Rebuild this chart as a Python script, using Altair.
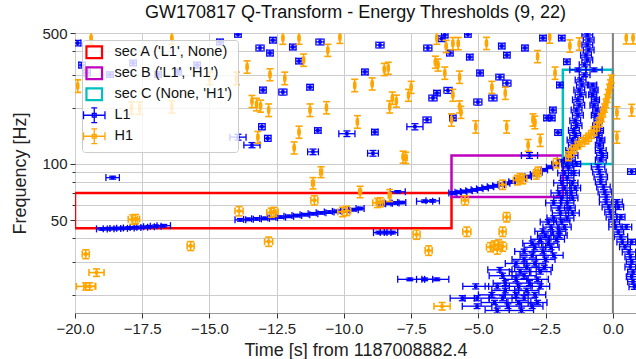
import altair as alt
import pandas as pd

# ---------------------------------------------------------------------------
# Q-transform tiles above the energy threshold, one tuple per tile:
# (time centre [s], half width [s], frequency centre [Hz], half height [Hz])
# ---------------------------------------------------------------------------

# L1: low-frequency inspiral track (section A)
l1_track_a = [
    (-19.00, 0.20, 45.0, 0.7), (-18.75, 0.20, 45.1, 0.7), (-18.50, 0.20, 45.2, 0.7),
    (-18.25, 0.20, 45.3, 0.7), (-18.00, 0.20, 45.5, 0.7), (-17.75, 0.20, 45.7, 0.7),
    (-17.50, 0.20, 45.9, 0.7), (-17.25, 0.20, 46.2, 0.7), (-17.00, 0.20, 46.5, 0.7),
    (-16.70, 0.25, 46.8, 0.7),
    (-13.85, 0.20, 50.3, 0.8), (-13.55, 0.18, 50.6, 0.8), (-13.25, 0.18, 50.9, 0.8),
    (-12.95, 0.18, 51.2, 0.8), (-12.65, 0.18, 51.6, 0.8), (-12.35, 0.18, 52.0, 0.8),
    (-12.05, 0.18, 52.5, 0.8), (-11.75, 0.18, 53.0, 0.8), (-11.45, 0.18, 53.6, 0.8),
    (-11.15, 0.18, 54.2, 0.8), (-10.85, 0.18, 54.8, 0.8), (-10.55, 0.18, 55.3, 0.9),
    (-10.25, 0.18, 55.8, 0.9), (-9.95, 0.18, 56.3, 0.9), (-9.65, 0.18, 57.0, 0.9),
    (-9.40, 0.15, 57.8, 0.9),
    (-8.60, 0.15, 61.3, 0.9), (-8.35, 0.15, 61.6, 0.9), (-8.10, 0.15, 61.9, 0.9),
    (-7.85, 0.15, 62.2, 0.9), (-7.00, 0.30, 63.2, 1.0), (-6.70, 0.25, 63.5, 1.0),
    (-8.00, 0.28, 71.0, 1.0),
    (-8.70, 0.20, 43.0, 0.7), (-8.45, 0.20, 43.0, 0.7), (-8.20, 0.20, 43.0, 0.7),
    (-7.55, 0.45, 24.2, 0.4), (-7.00, 0.30, 24.2, 0.4), (-6.55, 0.45, 24.2, 0.4),
    (-18.60, 0.25, 84.5, 1.5),
]

# L1: track through section B
l1_track_b = [
    (-5.95, 0.15, 70.0, 1.1), (-5.75, 0.12, 70.6, 1.1), (-5.55, 0.12, 71.2, 1.1),
    (-5.35, 0.12, 71.9, 1.1), (-5.15, 0.12, 72.7, 1.1), (-4.95, 0.12, 73.6, 1.1),
    (-4.75, 0.12, 74.5, 1.2), (-4.55, 0.12, 75.5, 1.2), (-4.35, 0.12, 76.5, 1.2),
    (-4.15, 0.12, 77.6, 1.2), (-3.95, 0.12, 78.8, 1.2), (-3.75, 0.12, 80.2, 1.3),
    (-3.55, 0.12, 81.8, 1.3), (-3.35, 0.12, 83.5, 1.3), (-3.15, 0.12, 85.5, 1.4),
    (-2.95, 0.12, 87.8, 1.4), (-2.75, 0.12, 90.3, 1.5), (-2.55, 0.12, 93.0, 1.5),
    (-2.35, 0.12, 96.0, 1.6), (-2.15, 0.12, 99.5, 1.6), (-1.95, 0.12, 104.0, 1.7),
]

# L1: isolated high-frequency tiles
l1_scatter = [
    (-19.90, 0.12, 442, 15), (-19.74, 0.12, 337, 12), (-19.55, 0.12, 306, 11),
    (-18.70, 0.12, 300, 10), (-17.84, 0.12, 346, 12), (-16.91, 0.12, 300, 10),
    (-16.17, 0.12, 310, 11), (-15.46, 0.12, 337, 12), (-14.61, 0.12, 448, 16),
    (-13.94, 0.12, 492, 17), (-13.94, 0.30, 139, 5), (-13.42, 0.30, 126, 4),
    (-13.01, 0.12, 248, 9), (-13.05, 0.12, 158, 6), (-12.83, 0.12, 137, 5),
    (-13.12, 0.15, 416, 15), (-12.75, 0.12, 391, 14), (-12.64, 0.12, 458, 16),
    (-12.27, 0.15, 242, 9), (-11.90, 0.12, 421, 15), (-11.67, 0.12, 354, 12),
    (-11.26, 0.12, 257, 9), (-11.15, 0.20, 116, 4), (-10.89, 0.15, 448, 16),
    (-10.97, 0.12, 151, 5), (-9.89, 0.30, 145, 5), (-9.22, 0.12, 310, 11),
    (-8.85, 0.12, 148, 5), (-8.92, 0.20, 114, 4), (-8.66, 0.15, 431, 15),
    (-6.25, 0.12, 488, 17), (-6.36, 0.12, 466, 16), (-6.88, 0.15, 416, 15),
    (-6.06, 0.12, 391, 14), (-5.32, 0.12, 372, 13), (-5.39, 0.12, 492, 17),
    (-4.13, 0.12, 426, 15), (-3.94, 0.12, 381, 13), (-3.27, 0.12, 416, 15),
    (-2.60, 0.12, 470, 16), (-4.94, 0.12, 306, 11), (-4.20, 0.15, 291, 10),
    (-3.94, 0.15, 270, 10), (-6.54, 0.12, 239, 8), (-6.13, 0.15, 247, 9),
    (-6.69, 0.15, 225, 8), (-5.02, 0.15, 214, 8), (-4.46, 0.15, 225, 8),
    (-6.91, 0.15, 172, 6), (-5.95, 0.12, 176, 6), (-7.36, 0.30, 158, 6),
    (-3.10, 0.30, 111, 4), (-2.45, 0.12, 176, 6), (-1.90, 0.12, 470, 16),
    (-1.71, 0.12, 351, 12), (-1.97, 0.12, 264, 9), (-2.23, 0.12, 194, 7),
    (-2.27, 0.12, 176, 6), (-2.04, 0.12, 147, 5), (0.70, 0.15, 91, 3),
]

# L1: chirp tiles, rising branch below section C
l1_chirp_rise = [
    (-4.30, 0.45, 16.5, 0.5), (-3.40, 0.45, 16.5, 0.5),
    (-5.05, 0.55, 17.4, 0.5), (-3.90, 0.45, 17.4, 0.5), (-3.00, 0.40, 17.4, 0.5),
    (-4.40, 0.50, 18.2, 0.5), (-3.50, 0.45, 18.2, 0.5), (-2.80, 0.35, 18.2, 0.5),
    (-5.60, 0.45, 19.2, 0.6), (-5.05, 0.45, 19.2, 0.6), (-4.10, 0.50, 19.2, 0.6),
    (-3.30, 0.45, 19.2, 0.6),
    (-4.50, 0.50, 20.0, 0.6), (-3.60, 0.45, 20.0, 0.6), (-2.90, 0.40, 20.0, 0.6),
    (-4.00, 0.50, 21.1, 0.6), (-3.20, 0.45, 21.1, 0.6),
    (-5.10, 0.48, 22.2, 0.7), (-4.30, 0.45, 22.2, 0.7), (-3.50, 0.50, 22.2, 0.7),
    (-2.70, 0.35, 22.2, 0.7),
    (-4.00, 0.45, 23.1, 0.7), (-3.10, 0.45, 23.1, 0.7),
    (-3.60, 0.45, 24.2, 0.7), (-2.80, 0.40, 24.2, 0.7),
    (-4.10, 0.50, 25.3, 0.8), (-3.30, 0.45, 25.3, 0.8),
    (-4.20, 0.45, 27.2, 0.8), (-3.45, 0.40, 26.6, 0.8), (-2.70, 0.40, 26.6, 0.8),
    (-3.20, 0.45, 28.0, 0.8), (-2.55, 0.30, 28.0, 0.8),
    (-3.60, 0.40, 29.4, 0.9), (-2.90, 0.40, 29.4, 0.9),
    (-3.30, 0.45, 30.9, 0.9), (-2.50, 0.35, 30.9, 0.9),
    (-3.00, 0.45, 32.5, 1.0), (-2.20, 0.35, 32.5, 1.0),
    (-3.30, 0.35, 34.1, 1.0), (-2.60, 0.35, 34.1, 1.0),
    (-2.90, 0.40, 35.9, 1.1), (-2.30, 0.30, 35.9, 1.1),
    (-3.00, 0.35, 37.7, 1.1), (-2.40, 0.35, 37.7, 1.1),
    (-2.70, 0.35, 39.6, 1.2), (-2.10, 0.30, 39.6, 1.2),
    (-2.50, 0.30, 41.6, 1.2), (-2.00, 0.30, 41.6, 1.2),
    (-2.60, 0.30, 43.7, 1.3), (-2.00, 0.25, 43.7, 1.3),
    (-2.30, 0.30, 46.0, 1.4), (-1.80, 0.25, 46.0, 1.4),
    (-2.40, 0.30, 49.0, 1.5), (-1.90, 0.30, 49.0, 1.5),
    (-2.20, 0.25, 51.4, 1.5), (-1.70, 0.25, 51.4, 1.5),
    (-1.95, 0.30, 54.7, 1.6), (-1.50, 0.25, 54.7, 1.6),
    (-2.00, 0.30, 58.2, 1.7), (-1.60, 0.20, 58.2, 1.7),
    (-2.20, 0.30, 61.9, 1.9), (-1.70, 0.25, 61.9, 1.9),
    (-1.90, 0.30, 65.8, 2.0), (-1.50, 0.20, 65.8, 2.0),
    (-2.00, 0.30, 70.0, 2.1), (-1.55, 0.20, 70.0, 2.1),
    (-1.80, 0.25, 74.4, 2.2), (-1.40, 0.20, 74.4, 2.2),
    (-1.90, 0.30, 79.2, 2.4), (-1.50, 0.20, 79.2, 2.4),
    (-1.70, 0.25, 84.2, 2.5),
    (-1.80, 0.25, 89.5, 2.7), (-1.45, 0.20, 89.5, 2.7),
    (-1.65, 0.20, 95.2, 2.9),
    (-1.70, 0.20, 100.0, 3.0), (-1.35, 0.15, 100.0, 3.0),
]

# L1: the two legs inside and above section C
l1_chirp_peak = [
    (-1.60, 0.20, 104.8, 2.5), (-1.50, 0.20, 111, 2.6), (-1.55, 0.20, 118, 2.8),
    (-1.45, 0.20, 126, 3.0), (-1.50, 0.20, 134, 3.2), (-1.40, 0.20, 142, 3.4),
    (-1.45, 0.20, 151, 3.6), (-1.35, 0.20, 160, 3.8), (-1.40, 0.20, 170, 4.0),
    (-1.30, 0.20, 182, 4.3), (-1.35, 0.20, 194, 4.6), (-1.25, 0.20, 206, 4.9),
    (-1.30, 0.20, 220, 5.2), (-1.20, 0.20, 234, 5.5), (-1.25, 0.20, 248, 5.9),
    (-1.15, 0.20, 264, 6.2), (-1.20, 0.20, 281, 6.6), (-1.05, 0.20, 299, 7.0),
    (-1.30, 0.30, 318, 7.5), (-0.70, 0.30, 318, 7.5), (-1.05, 0.20, 338, 8.0),
    (-0.95, 0.20, 359, 8.5), (-1.00, 0.20, 381, 9.0), (-0.90, 0.20, 406, 9.6),
    (-0.95, 0.20, 432, 10.2), (-0.90, 0.20, 459, 10.8), (-0.95, 0.20, 488, 11.5),
    (-0.75, 0.15, 264, 6.2), (-0.70, 0.15, 248, 5.9), (-0.75, 0.15, 234, 5.5),
    (-0.65, 0.15, 220, 5.2), (-0.70, 0.15, 206, 4.9), (-0.60, 0.15, 194, 4.6),
    (-0.65, 0.15, 182, 4.3), (-0.55, 0.15, 170, 4.0), (-0.60, 0.15, 160, 3.8),
    (-0.50, 0.15, 151, 3.6), (-0.55, 0.15, 142, 3.4), (-0.45, 0.15, 134, 3.2),
    (-0.50, 0.15, 126, 3.0), (-0.45, 0.20, 118, 2.8), (-0.40, 0.20, 111, 2.6),
    (-0.45, 0.20, 105, 2.5),
]

# L1: falling branch after the peak
l1_chirp_fall = [
    (-0.55, 0.25, 96.4, 2.9), (-0.50, 0.25, 90.6, 2.7), (-0.45, 0.25, 85.2, 2.6),
    (-0.45, 0.20, 80.1, 2.4), (-0.35, 0.25, 75.3, 2.3), (-0.30, 0.25, 70.8, 2.1),
    (-0.25, 0.25, 66.6, 2.0), (-0.25, 0.25, 62.6, 1.9), (0.15, 0.20, 62.6, 1.9),
    (-0.15, 0.25, 58.9, 1.8), (0.20, 0.20, 58.9, 1.8), (-0.10, 0.20, 55.4, 1.7),
    (-0.05, 0.20, 52.1, 1.6), (0.30, 0.15, 52.1, 1.6), (0.05, 0.20, 49.0, 1.5),
    (0.10, 0.25, 46.1, 1.4), (0.50, 0.20, 46.1, 1.4), (0.20, 0.20, 43.3, 1.3),
    (0.30, 0.25, 40.8, 1.2), (0.35, 0.20, 38.3, 1.2), (0.70, 0.15, 38.3, 1.2),
    (0.45, 0.20, 36.1, 1.1), (0.60, 0.25, 33.9, 1.0), (0.65, 0.20, 31.9, 1.0),
    (0.70, 0.20, 30.0, 0.9), (0.65, 0.20, 28.2, 0.9), (0.75, 0.20, 26.5, 0.8),
    (0.70, 0.20, 25.0, 0.8), (0.75, 0.20, 23.5, 0.7), (0.80, 0.20, 22.1, 0.7),
]

# H1: low-frequency tiles and the track through section B
h1_low = [
    (-17.85, 0.17, 50.6, 2.9), (-17.75, 0.15, 50.8, 2.9), (-13.90, 0.15, 56.0, 3.2),
    (-15.70, 0.13, 36.5, 2.0), (-19.60, 0.13, 33.0, 1.8), (-19.20, 0.28, 26.3, 1.2),
    (-19.60, 0.35, 22.2, 1.0), (-19.45, 0.22, 22.2, 1.0), (-12.70, 0.17, 55.0, 3.1),
    (-12.60, 0.15, 55.5, 3.1), (-12.80, 0.15, 38.5, 2.2), (-10.05, 0.18, 55.5, 3.2),
    (-9.90, 0.15, 56.2, 3.2), (-11.10, 0.13, 64.0, 3.6), (-11.15, 0.05, 79.0, 5.5),
    (-10.85, 0.05, 90.5, 6.0), (-9.40, 0.05, 71.0, 5.0), (-8.75, 0.18, 62.0, 3.5),
    (-8.65, 0.15, 62.5, 3.5), (-8.30, 0.05, 68.0, 5.0), (-7.70, 0.05, 108.0, 7.5),
    (-7.30, 0.13, 42.0, 2.4), (-6.85, 0.13, 34.5, 2.0), (-6.35, 0.30, 17.4, 0.8),
    (-5.50, 0.13, 64.0, 3.6), (-3.95, 0.13, 52.0, 3.0), (-5.43, 0.15, 43.5, 2.5),
    (-4.10, 0.13, 43.5, 2.5), (-4.55, 0.15, 36.0, 2.0), (-4.40, 0.15, 36.8, 2.0),
    (-4.25, 0.15, 37.2, 2.1), (-4.10, 0.15, 36.2, 2.0), (-4.30, 0.15, 35.0, 2.0),
    (-4.10, 0.13, 77.5, 4.4), (-3.55, 0.15, 82.0, 4.7), (-3.45, 0.15, 84.0, 4.8),
    (-3.35, 0.15, 83.0, 4.7), (-2.85, 0.12, 88.0, 5.0), (-2.78, 0.12, 91.0, 5.2),
    (-2.10, 0.12, 101.0, 5.8),
]

# H1: chirp inside section C
h1_chirp = [
    (-1.65, 0.10, 110, 6), (-1.55, 0.10, 115, 6), (-1.45, 0.10, 120, 6),
    (-1.30, 0.10, 126, 6), (-1.15, 0.10, 131, 7), (-1.00, 0.10, 135, 7),
    (-0.90, 0.10, 139, 7), (-0.80, 0.10, 144, 7), (-0.70, 0.10, 150, 8),
    (-0.60, 0.10, 158, 8), (-0.50, 0.09, 167, 9), (-0.43, 0.08, 177, 9),
    (-0.37, 0.08, 188, 10), (-0.31, 0.07, 199, 10), (-0.26, 0.07, 211, 11),
    (-0.21, 0.06, 224, 11), (-0.17, 0.06, 238, 12), (-0.13, 0.06, 253, 13),
    (-0.09, 0.05, 268, 13), (-0.06, 0.05, 284, 14),
]

# H1: isolated high-frequency tiles
h1_scatter = [
    (-19.90, 0.03, 261, 20), (-19.40, 0.03, 470, 35), (-17.90, 0.03, 199, 15),
    (-17.60, 0.03, 199, 15), (-16.40, 0.03, 202, 15), (-16.40, 0.03, 470, 35),
    (-15.00, 0.03, 287, 22), (-14.00, 0.03, 287, 22), (-13.60, 0.03, 330, 25),
    (-13.42, 0.03, 216, 16), (-13.25, 0.03, 208, 16), (-13.10, 0.03, 204, 15),
    (-13.20, 0.03, 139, 10), (-12.80, 0.03, 194, 15), (-12.75, 0.03, 300, 22),
    (-12.27, 0.03, 470, 35), (-12.20, 0.03, 287, 22), (-11.67, 0.03, 470, 35),
    (-11.50, 0.03, 359, 27), (-11.67, 0.03, 148, 11), (-11.85, 0.03, 122, 9),
    (-11.26, 0.03, 194, 15), (-10.65, 0.03, 200, 15), (-10.60, 0.03, 405, 30),
    (-10.15, 0.03, 475, 35), (-9.60, 0.03, 263, 20), (-9.50, 0.03, 168, 13),
    (-8.95, 0.03, 268, 20), (-8.50, 0.03, 320, 24), (-8.35, 0.03, 325, 24),
    (-8.20, 0.03, 225, 17), (-8.30, 0.03, 202, 15), (-8.05, 0.03, 217, 16),
    (-7.80, 0.03, 109, 8), (-7.50, 0.03, 257, 19), (-7.60, 0.03, 233, 17),
    (-6.55, 0.03, 470, 35), (-6.20, 0.03, 425, 32), (-5.95, 0.03, 440, 33),
    (-5.75, 0.03, 440, 33), (-6.60, 0.03, 350, 26), (-6.50, 0.03, 338, 25),
    (-6.25, 0.03, 306, 23), (-5.70, 0.03, 291, 22), (-4.70, 0.03, 441, 33),
    (-2.80, 0.03, 375, 28), (-2.35, 0.03, 476, 35), (-4.00, 0.03, 239, 18),
    (-4.50, 0.03, 257, 19), (-5.95, 0.03, 233, 17), (-5.70, 0.03, 202, 15),
    (-5.65, 0.03, 189, 14), (-6.00, 0.03, 172, 13), (-5.10, 0.03, 158, 12),
    (-3.95, 0.03, 158, 12), (-2.90, 0.03, 167, 13), (-2.70, 0.03, 134, 10),
    (-3.15, 0.03, 126, 9), (-2.97, 0.03, 172, 13), (-2.15, 0.03, 306, 23),
    (-1.60, 0.03, 427, 32), (-1.25, 0.03, 438, 33), (0.15, 0.03, 188, 14),
    (0.15, 0.03, 139, 10), (0.70, 0.03, 194, 14), (0.50, 0.03, 472, 35),
    (0.75, 0.03, 472, 35),
]

# Analysis sections: (label, start, end, low freq, high freq)
section_names = ["sec A ('L1', None)", "sec B ('L1', 'H1')", "sec C (None, 'H1')"]
section_t0 = [-20.0, -6.0, -1.86]
section_t1 = [-6.0, -1.86, 0.0]
section_f0 = [45.3, 66.5, 100.0]
section_f1 = [70.0, 111.0, 318.0]

merger_time = [0.0]
x_ticks = [-20.0, -17.5, -15.0, -12.5, -10.0, -7.5, -5.0, -2.5, 0.0]
y_ticks = [20, 30, 40, 50, 60, 70, 80, 90, 100, 200, 300, 400, 500]
y_labelled = [50, 100, 500]

# ---------------------------------------------------------------------------
FONT = "Liberation Sans"
TEXT = "#222222"
L1_COLOUR = "#0000ff"
H1_COLOUR = "#ffa500"
SECTION_COLOURS = ["#ff0000", "#bf00bf", "#00bfbf"]


def tiles(groups, ifo):
    d = pd.concat([pd.DataFrame(g, columns=["t", "dt", "f", "df"]) for g in groups],
                  ignore_index=True)
    d["ifo"] = ifo
    d["t_lo"] = d.t - d.dt
    d["t_hi"] = d.t + d.dt
    d["f_lo"] = d.f - d.df
    d["f_hi"] = d.f + d.df
    return d


l1 = tiles([l1_track_a, l1_track_b, l1_scatter, l1_chirp_rise, l1_chirp_peak,
            l1_chirp_fall], "L1")
h1 = tiles([h1_low, h1_chirp, h1_scatter], "H1")

sections = pd.DataFrame({"name": section_names, "t0": section_t0, "t1": section_t1,
                         "f0": section_f0, "f1": section_f1})

xs = alt.Scale(domain=[-20, 0.86], nice=False, zero=False)
ys = alt.Scale(type="log", domain=[16, 500], nice=False)

axis_style = dict(
    labelFont=FONT, titleFont=FONT, labelFontSize=15, titleFontSize=18,
    titleFontWeight="normal", labelColor=TEXT, titleColor=TEXT,
    gridColor="#cccccc", gridWidth=1, tickColor="#333333", domain=False,
    labelFlush=False, labelOverlap=False, grid=True, labelPadding=3,
)
major_test = " || ".join(f"datum.value == {v}" for v in y_labelled)
xaxis = alt.Axis(
    values=x_ticks, title="Time [s] from 1187008882.4",
    labelExpr="replace(format(datum.value, '.1f'), '-', '\u2212')",
    tickSize=5, titlePadding=5, **axis_style,
)
yaxis = alt.Axis(
    values=y_ticks, title="Frequency [Hz]",
    labelExpr=f"({major_test}) ? format(datum.value, 'd') : ''",
    tickSize={"condition": {"test": major_test, "value": 5}, "value": 3},
    titlePadding=12, **axis_style,
)


def X(field):
    return alt.X(field, type="quantitative", scale=xs, axis=xaxis)


def Y(field):
    return alt.Y(field, type="quantitative", scale=ys, axis=yaxis)


def errorbar_layers(data, colour, lw):
    base = alt.Chart(data)
    xbar = base.mark_rule(color=colour, strokeWidth=lw, clip=True).encode(
        x=X("t_lo"), x2="t_hi", y=Y("f"))
    ybar = base.mark_rule(color=colour, strokeWidth=lw, clip=True).encode(
        x=X("t"), y=Y("f_lo"), y2="f_hi")
    xcap = base.transform_fold(["t_lo", "t_hi"], as_=["end", "tc"]).mark_tick(
        orient="vertical", size=7, thickness=lw, color=colour, opacity=1, clip=True
    ).encode(x=X("tc"), y=Y("f"))
    ycap = base.transform_fold(["f_lo", "f_hi"], as_=["end", "fc"]).mark_tick(
        orient="horizontal", size=7, thickness=lw, color=colour, opacity=1, clip=True
    ).encode(x=X("t"), y=Y("fc"))
    dot = base.mark_point(filled=True, shape="square", size=12, color=colour,
                          opacity=1, clip=True).encode(x=X("t"), y=Y("f"))
    return [xbar, ybar, xcap, ycap, dot]


boxes = alt.Chart(sections).mark_rect(filled=False, strokeWidth=2.5, clip=True).encode(
    x=X("t0"), x2="t1", y=Y("f0"), y2="f1",
    stroke=alt.Stroke("name:N", scale=alt.Scale(domain=section_names,
                                                range=SECTION_COLOURS), legend=None),
)

merger = alt.Chart(pd.DataFrame({"t": merger_time})).mark_rule(
    color="#808080", strokeWidth=2).encode(x=X("t"))

# Legend: section boxes and the two detectors' error-bar glyphs
legend_names = section_names + ["L1", "H1"]
legend_colours = SECTION_COLOURS + [L1_COLOUR, H1_COLOUR]
box_glyph = "M-0.8,-0.6H0.8V0.6H-0.8Z"
bar_glyph = ("M-1.1,0H1.1M-1.1,-0.4V0.4M1.1,-0.4V0.4M0,-0.75V0.75"
             "M-0.3,-0.75H0.3M-0.3,0.75H0.3M-0.2,-0.2H0.2V0.2H-0.2Z")
legend_shapes = [box_glyph] * 3 + [bar_glyph] * 2
legend_opts = dict(
    title=None, orient="top-left", offset=7, padding=5,
    fillColor="rgba(255,255,255,0.8)", strokeColor="#cccccc", cornerRadius=3,
    labelFont=FONT, labelFontSize=14.5, labelColor="#111111", labelLimit=400,
    labelOffset=13, symbolSize=380, symbolOpacity=1, rowPadding=0,
    symbolStrokeWidth=alt.ExprRef("datum.value === 'L1' || datum.value === 'H1' ? 1.3 : 2.2"),
)
key = alt.Chart(pd.concat([l1, h1])).transform_filter("false").mark_point(
    filled=False).encode(
    x=X("t"), y=Y("f"),
    color=alt.Color("ifo:N", scale=alt.Scale(domain=legend_names, range=legend_colours),
                    legend=alt.Legend(**legend_opts)),
    shape=alt.Shape("ifo:N", scale=alt.Scale(domain=legend_names, range=legend_shapes),
                    legend=alt.Legend(**legend_opts)),
)

chart = alt.layer(
    boxes, *errorbar_layers(l1, L1_COLOUR, 1.3), merger,
    *errorbar_layers(h1, H1_COLOUR, 1.6), key
).properties(
    width=561, height=280,
    autosize="none",
    background="white",
    padding={"left": 75, "top": 33, "right": 0, "bottom": 46},
    title=alt.Title("GW170817 Q-Transform - Energy Thresholds (9, 22)", font=FONT,
                    fontSize=18, fontWeight="normal", color="#111111", offset=4,
                    anchor="middle"),
).configure_view(
    stroke="#999999", strokeWidth=1,
)

chart.save("out.html", embed_options={"renderer": "svg", "actions": False})
